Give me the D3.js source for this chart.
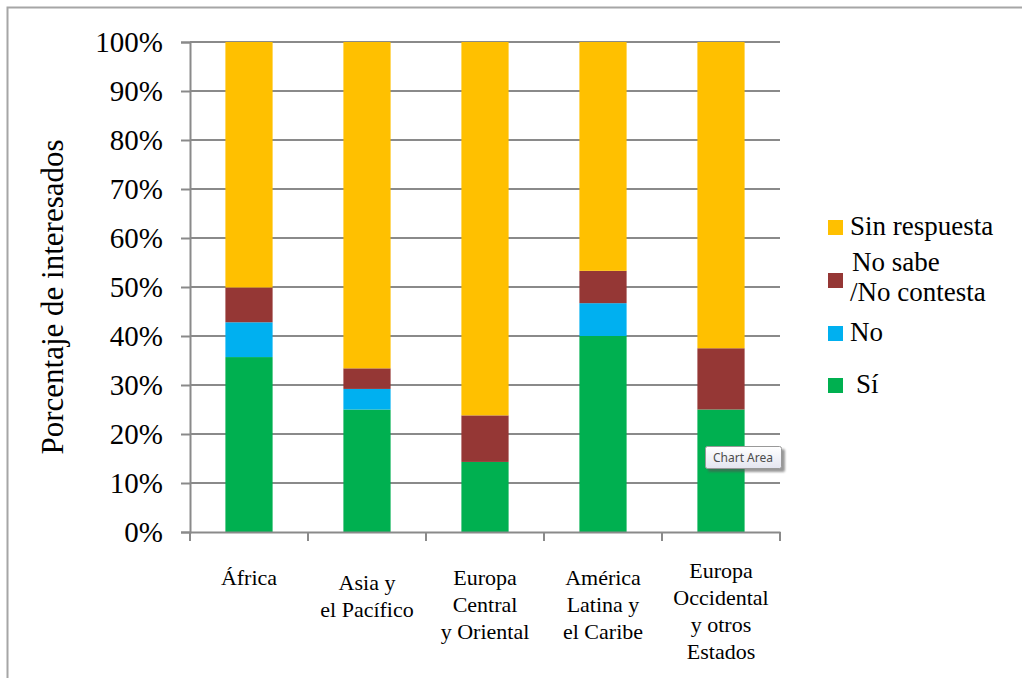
<!DOCTYPE html>
<html>
<head>
<meta charset="utf-8">
<script src="https://cdn.jsdelivr.net/npm/d3@7"></script>
<style>
  body { margin: 0; background: #fff; }
  svg { display: block; }
</style>
</head>
<body>
<svg id="chart" width="1022" height="678"></svg>
<script>
// regions (each label split in lines as in the picture)
const regions = ["África", "Asia y el Pacífico", "Europa Central y Oriental", "América Latina y el Caribe", "Europa Occidental y otros Estados"]
const regionLines = [
  ["África"],
  ["Asia y", "el Pacífico"],
  ["Europa", "Central", "y Oriental"],
  ["América", "Latina y", "el Caribe"],
  ["Europa", "Occidental", "y otros", "Estados"]
]

// series, percentages (bottom to top)
const si          = [35.7, 25.0, 14.3, 40.0, 25.0]
const no          = [7.1, 4.2, 0, 6.7, 0]
const noSabe      = [7.1, 4.2, 9.5, 6.6, 12.5]
const sinRespuesta = [50.1, 66.6, 76.2, 46.7, 62.5]

const seriesKeys = ["si", "no", "noSabe", "sinRespuesta"]
const seriesNames = { si: "Sí", no: "No", noSabe: "No sabe\n/No contesta", sinRespuesta: "Sin respuesta" }
const colors = { si: "#00b050", no: "#00b0f0", noSabe: "#953735", sinRespuesta: "#ffc000" }

const yTicks = [0, 10, 20, 30, 40, 50, 60, 70, 80, 90, 100]
const yLabel = "Porcentaje de interesados"

const serif = '"Liberation Serif", "Times New Roman", serif'

const table = regions.map((r, i) => ({
  region: r, si: si[i], no: no[i], noSabe: noSabe[i], sinRespuesta: sinRespuesta[i]
}))

const margin = { top: 42, left: 190, right: 242, bottom: 146 }
const svg = d3.select("#chart")
const W = 1022, H = 678
const width = W - margin.left - margin.right
const height = H - margin.top - margin.bottom

// outer frame (only left and top edges visible)
svg.append("path")
  .attr("d", `M7.5,${H} V7.5 H${W}`)
  .attr("fill", "none")
  .attr("stroke", "#a6a6a6")
  .attr("stroke-width", 2)

const g = svg.append("g").attr("transform", `translate(${margin.left},${margin.top})`)

const x = d3.scaleBand().domain(regions).range([0, width]).paddingInner(0).paddingOuter(0)
const y = d3.scaleLinear().domain([0, 100]).range([height, 0])

const grey = "#8a8a8a"

// gridlines
g.append("g")
  .selectAll("line")
  .data(yTicks.filter(t => t > 0))
  .join("line")
    .attr("x1", 0)
    .attr("x2", width)
    .attr("y1", d => y(d))
    .attr("y2", d => y(d))
    .attr("stroke", grey)
    .attr("stroke-width", 2)

// stacked bars
const stack = d3.stack().keys(seriesKeys)(table)
const barW = x.bandwidth() * 0.40
g.append("g")
  .selectAll("g")
  .data(stack)
  .join("g")
    .attr("fill", d => colors[d.key])
  .selectAll("rect")
  .data(d => d)
  .join("rect")
    .attr("x", d => x(d.data.region) + (x.bandwidth() - barW) / 2)
    .attr("y", d => y(d[1]))
    .attr("width", barW)
    .attr("height", d => y(d[0]) - y(d[1]))

// y axis
const yAxis = g.append("g")
  .call(d3.axisLeft(y).tickValues(yTicks).tickSize(9).tickPadding(18).tickFormat(d => d + "%"))
yAxis.attr("font-family", serif)
yAxis.select(".domain").attr("stroke", grey).attr("stroke-width", 2)
yAxis.selectAll(".tick line").attr("stroke", grey).attr("stroke-width", 2)
yAxis.selectAll(".tick text")
  .attr("fill", "#000")
  .attr("font-family", serif)
  .attr("font-size", "29px")
  .attr("dy", "0.34em")

// x axis
const xAxis = g.append("g")
  .attr("transform", `translate(0,${height})`)
  .call(d3.axisBottom(x).tickSize(0).tickFormat(""))
xAxis.select(".domain").attr("stroke", grey).attr("stroke-width", 2)

// category separators
g.append("g")
  .selectAll("line")
  .data(d3.range(regions.length + 1))
  .join("line")
    .attr("x1", i => i * x.step())
    .attr("x2", i => i * x.step())
    .attr("y1", height)
    .attr("y2", height + 9)
    .attr("stroke", grey)
    .attr("stroke-width", 2)

// category labels
const lineH = 27
g.append("g")
  .selectAll("text")
  .data(regions)
  .join("text")
    .attr("text-anchor", "middle")
    .attr("font-family", serif)
    .attr("font-size", "22px")
    .attr("fill", "#000")
    .attr("transform", (d, i) => {
      const n = regionLines[i].length
      const first = n === 4 ? 46 : (n === 2 ? 58 : 53)
      return `translate(${x(d) + x.bandwidth() / 2},${height + first})`
    })
  .each(function (d, i) {
    d3.select(this).selectAll("tspan")
      .data(regionLines[i])
      .join("tspan")
        .attr("x", 0)
        .attr("y", (t, j) => j * lineH)
        .text(t => t)
  })

// y axis title
svg.append("text")
  .attr("transform", `translate(63,297) rotate(-90)`)
  .attr("text-anchor", "middle")
  .attr("font-family", serif)
  .attr("font-size", "31px")
  .attr("fill", "#000")
  .text(yLabel)

// legend
const legendItems = [
  { key: "sinRespuesta", y: 235 },
  { key: "noSabe", y: 288 },
  { key: "no", y: 341 },
  { key: "si", y: 393 }
]
const legend = svg.append("g")
legendItems.forEach(item => {
  legend.append("rect")
    .attr("x", 828)
    .attr("y", item.y - 15)
    .attr("width", 15)
    .attr("height", 15)
    .attr("fill", colors[item.key])
  const lines = seriesNames[item.key].split("\n")
  const t = legend.append("text")
    .attr("font-family", serif)
    .attr("font-size", "27px")
    .attr("fill", "#000")
  if (lines.length === 1) {
    t.append("tspan")
      .attr("x", item.key === "si" ? 856 : 850)
      .attr("y", item.y)
      .text(lines[0])
  } else {
    t.append("tspan").attr("x", 852).attr("y", item.y - 17).text(lines[0])
    t.append("tspan").attr("x", 850).attr("y", item.y + 13).text(lines[1])
  }
})

// "Chart Area" hover tooltip
const tip = svg.append("g").attr("transform", "translate(705,446)")
const defs = svg.append("defs")
const grad = defs.append("linearGradient").attr("id", "tipGrad").attr("x1", 0).attr("y1", 0).attr("x2", 0).attr("y2", 1)
grad.append("stop").attr("offset", "0%").attr("stop-color", "#ffffff")
grad.append("stop").attr("offset", "100%").attr("stop-color", "#e4e5f0")
const blur = defs.append("filter").attr("id", "tipShadow")
blur.append("feGaussianBlur").attr("stdDeviation", 1.2)
tip.append("rect")
  .attr("x", 3).attr("y", 3).attr("width", 77).attr("height", 23).attr("rx", 2)
  .attr("fill", "#555").attr("opacity", 0.6).attr("filter", "url(#tipShadow)")
tip.append("rect")
  .attr("x", 0.5).attr("y", 0.5).attr("width", 76).attr("height", 22).attr("rx", 2)
  .attr("fill", "url(#tipGrad)").attr("stroke", "#999")
tip.append("text")
  .attr("x", 38).attr("y", 16)
  .attr("text-anchor", "middle")
  .attr("font-family", '"Noto Sans", "DejaVu Sans", sans-serif')
  .attr("font-size", "12px")
  .attr("fill", "#4c4c4c")
  .text("Chart Area")
</script>
</body>
</html>
